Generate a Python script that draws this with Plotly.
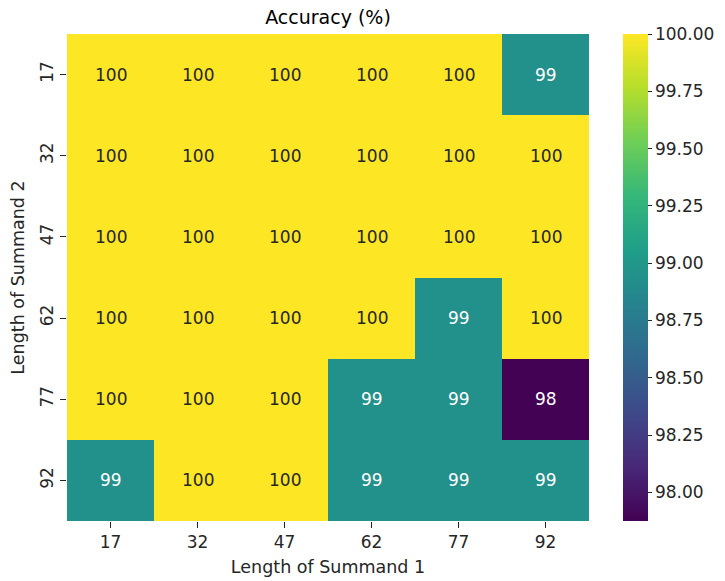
import plotly.graph_objects as go

summand1 = ["17", "32", "47", "62", "77", "92"]
summand2 = ["17", "32", "47", "62", "77", "92"]
accuracy = [
    [100.0, 100.0, 100.0, 100.0, 100.0, 98.94],
    [100.0, 100.0, 100.0, 100.0, 100.0, 100.0],
    [100.0, 100.0, 100.0, 100.0, 100.0, 100.0],
    [100.0, 100.0, 100.0, 100.0, 98.94, 100.0],
    [100.0, 100.0, 100.0, 98.94, 98.94, 97.88],
    [98.94, 100.0, 100.0, 98.94, 98.94, 98.94],
]
cbar_ticks = [98.0, 98.25, 98.5, 98.75, 99.0, 99.25, 99.5, 99.75, 100.0]
zmin, zmax = 97.875, 100.0

FONT = "DejaVu Sans"
xi = list(range(len(summand1)))
yi = list(range(len(summand2)))

W, H = 725, 581
ML, MR, MT, MB = 67, 136, 34, 60

fig = go.Figure(
    go.Heatmap(
        z=accuracy,
        x=xi,
        y=yi,
        colorscale="Viridis",
        zmin=zmin,
        zmax=zmax,
        hoverinfo="skip",
        colorbar=dict(
            x=1.065,
            xanchor="left",
            xref="paper",
            y=0.5,
            yanchor="middle",
            len=1.0,
            lenmode="fraction",
            ypad=0,
            xpad=0,
            thickness=25,
            outlinewidth=0,
            ticks="outside",
            ticklen=4,
            tickwidth=1,
            tickcolor="#262626",
            tickvals=cbar_ticks,
            tickformat=".2f",
            tickfont=dict(family=FONT, size=17, color="#262626"),
        ),
    )
)

annotations = []
for i, row in enumerate(accuracy):
    for j, v in enumerate(row):
        frac = (v - zmin) / (zmax - zmin)
        color = "#262626" if frac > 0.7 else "#ffffff"
        annotations.append(
            dict(
                x=xi[j],
                y=yi[i],
                xref="x",
                yref="y",
                text=f"{v:.0f}",
                showarrow=False,
                font=dict(family=FONT, size=17, color=color),
            )
        )

fig.update_layout(
    width=W,
    height=H,
    margin=dict(l=ML, r=MR, t=MT, b=MB, autoexpand=False),
    paper_bgcolor="white",
    plot_bgcolor="white",
    annotations=annotations,
    title=dict(
        text="Accuracy (%)",
        x=(ML + (W - ML - MR) / 2) / W,
        xanchor="center",
        y=1 - 17 / H,
        yanchor="middle",
        font=dict(family=FONT, size=19, color="#000000"),
    ),
    xaxis=dict(
        range=[-0.5, 5.5],
        tickvals=xi,
        ticktext=summand1,
        showgrid=False,
        zeroline=False,
        showline=False,
        ticks="outside",
        ticklen=6,
        tickcolor="#262626",
        tickfont=dict(family=FONT, size=17, color="#262626"),
        title=dict(text="Length of Summand 1", font=dict(family=FONT, size=17.5, color="#262626"), standoff=9),
    ),
    yaxis=dict(
        range=[5.5, -0.5],
        tickvals=yi,
        ticktext=summand2,
        showgrid=False,
        zeroline=False,
        showline=False,
        ticks="outside",
        ticklen=6,
        tickcolor="#262626",
        tickangle=-90,
        tickfont=dict(family=FONT, size=17, color="#262626"),
        title=dict(text="Length of Summand 2", font=dict(family=FONT, size=17.5, color="#262626"), standoff=8),
    ),
)

fig.write_html(
    "out.html",
    config={"displayModeBar": False},
    post_script="document.body.style.margin='0';document.body.style.overflow='hidden';",
)
